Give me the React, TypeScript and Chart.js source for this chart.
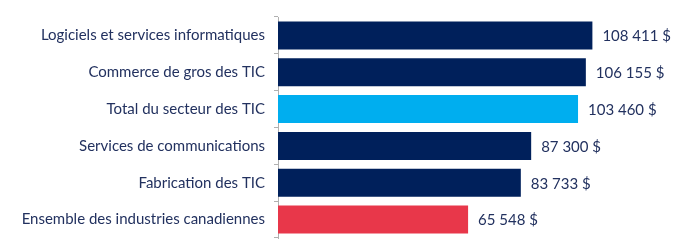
import React, { useEffect, useRef } from "react";
import { Chart, registerables } from "chart.js";

Chart.register(...registerables);

const categories = [
  "Logiciels et services informatiques",
  "Commerce de gros des TIC",
  "Total du secteur des TIC",
  "Services de communications",
  "Fabrication des TIC",
  "Ensemble des industries canadiennes",
];
const values = [108411, 106155, 103460, 87300, 83733, 65548];
const barColors = ["#00205B", "#00205B", "#00AEEF", "#00205B", "#00205B", "#E8374A"];

const fmt = (v: number) =>
  String(v).replace(/\B(?=(\d{3})+(?!\d))/g, " ") + " $";

const valueLabels = {
  id: "valueLabels",
  afterDatasetsDraw(chart: any) {
    const ctx = chart.ctx;
    const meta = chart.getDatasetMeta(0);
    ctx.save();
    ctx.font = "15px Lato";
    ctx.fillStyle = "#22315f";
    ctx.textAlign = "left";
    ctx.textBaseline = "middle";
    meta.data.forEach((el: any, i: number) => {
      ctx.fillText(fmt(values[i]), el.x + 10, el.y + 1);
    });
    ctx.restore();
  },
};

export default function App() {
  const ref = useRef<HTMLCanvasElement>(null);
  useEffect(() => {
    if (!ref.current) return;
    const chart = new Chart(ref.current, {
      type: "bar",
      data: {
        labels: categories,
        datasets: [
          {
            data: values,
            backgroundColor: barColors,
            categoryPercentage: 1,
            barPercentage: 0.76,
          },
        ],
      },
      options: {
        indexAxis: "y",
        animation: false,
        responsive: true,
        maintainAspectRatio: false,
        layout: { padding: { top: 9, bottom: 12, right: 46, left: 0 } },
        plugins: { legend: { display: false }, tooltip: { enabled: false } },
        scales: {
          x: { display: false, min: 0, max: 120000 },
          y: {
            afterFit: (scale: any) => {
              scale.width = 270;
              scale.paddingTop = 0;
              scale.paddingBottom = 0;
            },
            grid: {
              drawOnChartArea: false,
              drawTicks: true,
              tickLength: 4,
              color: "#b0b0b0",
            },
            border: { display: true, color: "#b0b0b0" },
            ticks: {
              color: "#22315f",
              font: { family: "Lato", size: 15 },
              padding: 9,
            },
          },
        },
      },
      plugins: [valueLabels],
    });
    return () => chart.destroy();
  }, []);
  return (
    <div style={{ width: 664, height: 242, position: "relative" }}>
      <canvas ref={ref} />
    </div>
  );
}
